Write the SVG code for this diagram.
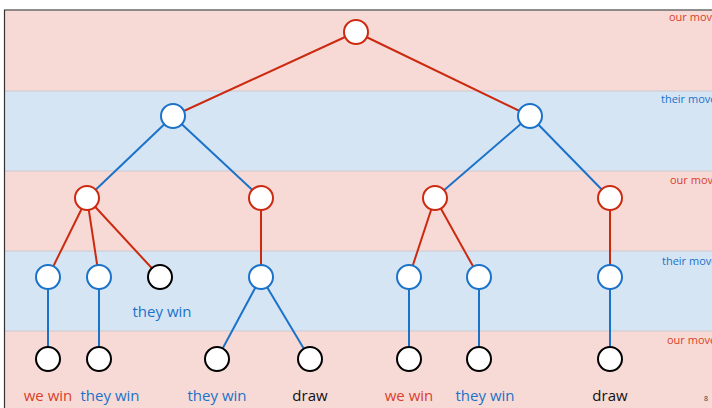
<svg xmlns="http://www.w3.org/2000/svg" width="712" height="408" viewBox="0 0 712 408">
  <style>
    .pink { fill: #f7dad6; }
    .blue { fill: #d6e5f4; }
    .sep { stroke: #c9c3cc; stroke-width: 0.8; }
    .er { stroke: #cc2a10; stroke-width: 2; }
    .eb { stroke: #1a72c9; stroke-width: 2; }
    .nr { fill: #fff; stroke: #cc2a10; stroke-width: 2; }
    .nb { fill: #fff; stroke: #1a72c9; stroke-width: 2; }
    .nk { fill: #fff; stroke: #000; stroke-width: 2; }
    text { font-family: "Open Sans", "Noto Sans", sans-serif; }
    .lab { font-size: 15px; text-anchor: middle; }
    .side { font-size: 11px; }
    .tr { fill: #d9412a; }
    .tb { fill: #1a72c9; }
    .tk { fill: #111; }
  </style>

  <!-- bands -->
  <rect class="pink" x="5" y="10" width="707" height="81"/>
  <rect class="blue" x="5" y="91" width="707" height="80"/>
  <rect class="pink" x="5" y="171" width="707" height="80"/>
  <rect class="blue" x="5" y="251" width="707" height="80"/>
  <rect class="pink" x="5" y="331" width="707" height="77"/>
  <line class="sep" x1="5" y1="91" x2="712" y2="91"/>
  <line class="sep" x1="5" y1="171" x2="712" y2="171"/>
  <line class="sep" x1="5" y1="251" x2="712" y2="251"/>
  <line class="sep" x1="5" y1="331" x2="712" y2="331"/>
  <line x1="4" y1="10" x2="712" y2="10" stroke="#6a6a6a" stroke-width="1.5"/>
  <line x1="4.5" y1="10" x2="4.5" y2="408" stroke="#333" stroke-width="1.2"/>

  <text class="side tr" x="669" y="21">our move</text>
  <text class="side tb" x="661" y="103">their move</text>
  <text class="side tr" x="670" y="184">our move</text>
  <text class="side tb" x="662" y="265">their move</text>
  <text class="side tr" x="667" y="344">our move</text>

  <!-- connectors -->
  <g id="edges">
    <line class="er" x1="356" y1="32" x2="173" y2="116"/>
    <line class="er" x1="356" y1="32" x2="530" y2="116"/>
    <line class="eb" x1="173" y1="116" x2="87" y2="198"/>
    <line class="eb" x1="173" y1="116" x2="261" y2="198"/>
    <line class="eb" x1="530" y1="116" x2="435" y2="198"/>
    <line class="eb" x1="530" y1="116" x2="610" y2="198"/>
    <line class="er" x1="87" y1="198" x2="48" y2="277"/>
    <line class="er" x1="87" y1="198" x2="99" y2="277"/>
    <line class="er" x1="87" y1="198" x2="160" y2="277"/>
    <line class="er" x1="261" y1="198" x2="261" y2="277"/>
    <line class="er" x1="435" y1="198" x2="409" y2="277"/>
    <line class="er" x1="435" y1="198" x2="479" y2="277"/>
    <line class="er" x1="610" y1="198" x2="610" y2="277"/>
    <line class="eb" x1="48" y1="277" x2="48" y2="359"/>
    <line class="eb" x1="99" y1="277" x2="99" y2="359"/>
    <line class="eb" x1="261" y1="277" x2="217" y2="359"/>
    <line class="eb" x1="261" y1="277" x2="310" y2="359"/>
    <line class="eb" x1="409" y1="277" x2="409" y2="359"/>
    <line class="eb" x1="479" y1="277" x2="479" y2="359"/>
    <line class="eb" x1="610" y1="277" x2="610" y2="359"/>
  </g>

  <!-- nodes -->
  <g id="root"><circle class="nr" cx="356" cy="32" r="12"/></g>
  <g id="a"><circle class="nb" cx="173" cy="116" r="12"/></g>
  <g id="b"><circle class="nb" cx="530" cy="116" r="12"/></g>
  <g id="aa"><circle class="nr" cx="87" cy="198" r="12"/></g>
  <g id="ab"><circle class="nr" cx="261" cy="198" r="12"/></g>
  <g id="ba"><circle class="nr" cx="435" cy="198" r="12"/></g>
  <g id="bb"><circle class="nr" cx="610" cy="198" r="12"/></g>
  <g id="aaa"><circle class="nb" cx="48" cy="277" r="12"/></g>
  <g id="aab"><circle class="nb" cx="99" cy="277" r="12"/></g>
  <g id="aac"><circle class="nk" cx="160" cy="277" r="12"/><text class="lab tb" x="162" y="317">they win</text></g>
  <g id="aba"><circle class="nb" cx="261" cy="277" r="12"/></g>
  <g id="baa"><circle class="nb" cx="409" cy="277" r="12"/></g>
  <g id="bab"><circle class="nb" cx="479" cy="277" r="12"/></g>
  <g id="bba"><circle class="nb" cx="610" cy="277" r="12"/></g>
  <g id="aaaa"><circle class="nk" cx="48" cy="359" r="12"/><text class="lab tr" x="48" y="401">we win</text></g>
  <g id="aaba"><circle class="nk" cx="99" cy="359" r="12"/><text class="lab tb" x="110" y="401">they win</text></g>
  <g id="abaa"><circle class="nk" cx="217" cy="359" r="12"/><text class="lab tb" x="217" y="401">they win</text></g>
  <g id="abab"><circle class="nk" cx="310" cy="359" r="12"/><text class="lab tk" x="310" y="401">draw</text></g>
  <g id="baaa"><circle class="nk" cx="409" cy="359" r="12"/><text class="lab tr" x="409" y="401">we win</text></g>
  <g id="baba"><circle class="nk" cx="479" cy="359" r="12"/><text class="lab tb" x="485" y="401">they win</text></g>
  <g id="bbaa"><circle class="nk" cx="610" cy="359" r="12"/><text class="lab tk" x="610" y="401">draw</text></g>

  <text x="706" y="401" font-size="7" fill="#333" text-anchor="middle">8</text>
</svg>
